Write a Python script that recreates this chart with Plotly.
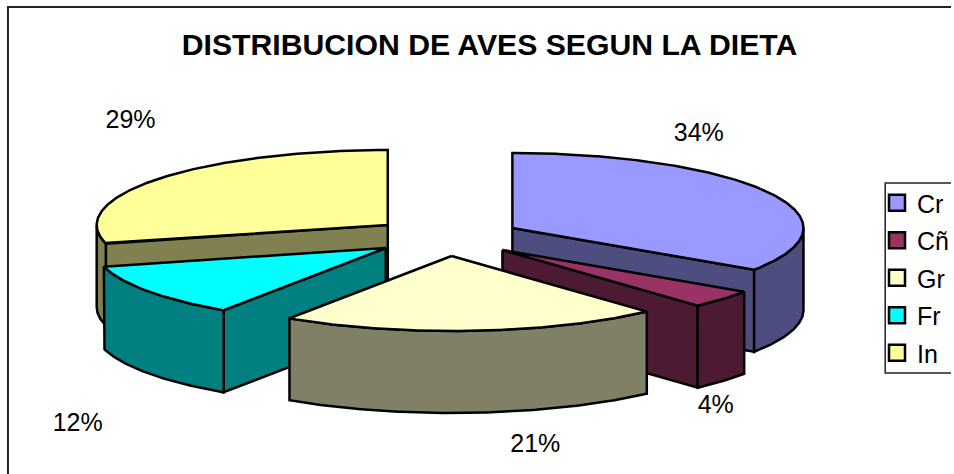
import numpy as np
import plotly.graph_objects as go

# --- data ---
categories = ["Cr", "Cñ", "Gr", "Fr", "In"]
percentages = [34.4, 3.9, 21.1, 11.6, 29.0]
title_text = "DISTRIBUCION DE AVES SEGUN LA DIETA"

# --- style ---
top_colors = ["#9999FF", "#993366", "#FFFFCC", "#00FFFF", "#FFFF99"]
side_colors = ["#4D4D80", "#4D1A33", "#808066", "#008080", "#808050"]
apex_x = [514, 504, 453, 387, 389]
apex_y = [228, 250, 256, 248, 225]
label_x = [701, 718, 537, 78, 131]
label_y = [135, 407, 446, 425, 122]
RX, RY, DEPTH = 292, 75, 82
PAINT_ORDER = [4, 3, 0, 1, 2]
LINE = dict(color="black", width=2.5)

fig = go.Figure()


def arc(cx, cy, a0, a1):
    t = np.radians(np.linspace(a0, a1, max(2, int(abs(a1 - a0) * 2))))
    return cx + RX * np.sin(t), cy - RY * np.cos(t)


def poly(xs, ys, color):
    fig.add_trace(go.Scatter(x=list(xs) + [xs[0]], y=list(ys) + [ys[0]], mode="lines",
                             fill="toself", fillcolor=color, line=LINE,
                             hoverinfo="skip", showlegend=False))


edges = np.cumsum([0] + percentages) * 3.6
for i in PAINT_ORDER:
    a0, a1 = edges[i], edges[i + 1]
    cx, cy = apex_x[i], apex_y[i]
    # radial faces that look towards the viewer
    for a, front in ((a0, a0 > 180), (a1, a1 < 180)):
        if front:
            ex, ey = arc(cx, cy, a, a)
            ex, ey = ex[0], ey[0]
            poly([cx, ex, ex, cx], [cy, ey, ey + DEPTH, cy + DEPTH], side_colors[i])
    # outer curved face: the part of the rim that faces the viewer
    lo, hi = max(a0, 90), min(a1, 270)
    if hi > lo:
        ax, ay = arc(cx, cy, lo, hi)
        poly(np.r_[ax, ax[::-1]], np.r_[ay, ay[::-1] + DEPTH], side_colors[i])
    # top face
    ax, ay = arc(cx, cy, a0, a1)
    poly(np.r_[cx, ax], np.r_[cy, ay], top_colors[i])

# percentage labels
fig.add_trace(go.Scatter(x=label_x, y=label_y, mode="text",
                         text=[f"{round(p)}%" for p in percentages],
                         textfont=dict(size=25, color="black", family="Liberation Sans"),
                         hoverinfo="skip", showlegend=False))

# legend entries
for name, color in zip(categories, top_colors):
    fig.add_trace(go.Scatter(x=[None], y=[None], mode="markers", name=name, legendgroup=name,
                             marker=dict(symbol="square", size=16, color=color,
                                         line=dict(color="black", width=2.5))))

fig.update_layout(
    width=954, height=474, margin=dict(l=0, r=0, t=0, b=0),
    paper_bgcolor="white", plot_bgcolor="white",
    xaxis=dict(range=[0, 954], visible=False, fixedrange=True),
    yaxis=dict(range=[474, 0], visible=False, fixedrange=True),
    font=dict(family="Liberation Sans", color="black"),
    title=dict(text=f"<b>{title_text}</b>", x=489.5 / 954, xanchor="center",
               y=1 - 44 / 474, yanchor="middle", font=dict(size=30.2)),
    legend=dict(x=880 / 954, y=1 - 180 / 474, xanchor="left", yanchor="top",
                bgcolor="rgba(0,0,0,0)", borderwidth=0,
                font=dict(size=25), itemsizing="trace", tracegroupgap=2),
    shapes=[
        dict(type="rect", xref="x", yref="y", x0=8, x1=960, y0=7, y1=480,
             line=dict(color="#222222", width=2), layer="below"),
        dict(type="rect", xref="x", yref="y", x0=888, x1=960, y0=183, y1=373,
             fillcolor="white", line=dict(color="#222222", width=1.5), layer="below"),
    ],
)
fig.write_html("out.html", config=dict(displayModeBar=False),
               post_script="document.body.style.margin='0';")
